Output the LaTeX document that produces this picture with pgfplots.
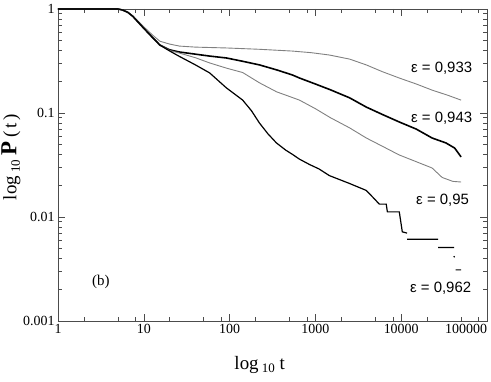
\documentclass[border=0pt]{standalone}
\usepackage{fontspec}
\setmainfont{Liberation Serif}
\newfontfamily\labfont{Liberation Sans}
\usepackage{pgfplots}
\pgfplotsset{compat=1.18}
\begin{document}
\begin{tikzpicture}
\begin{axis}[
    xmode=log, ymode=log,
    scale only axis,
    width=429bp, height=312bp,
    xmin=1, xmax=100000, ymin=0.001, ymax=1,
    xtick={1,10,100,1000,10000,100000},
    xticklabels={1,10,100,1000,10000,\llap{100000}},
    ytick={0.001,0.01,0.1,1},
    yticklabels={0.001,0.01,0.1,1},
    minor xtick={2,5,8,20,50,80,200,500,800,2000,5000,8000,20000,50000,80000},
    minor ytick={0.002,0.003,0.004,0.005,0.006,0.007,0.008,0.009,
                 0.02,0.03,0.04,0.05,0.06,0.07,0.08,0.09,
                 0.2,0.3,0.4,0.5,0.6,0.7,0.8,0.9},
    tick align=inside,
    major tick length=7bp, minor tick length=4bp,
    axis line style={black!70, line width=0.8pt},
    every tick/.style={black!70, line width=0.6pt},
    tick label style={font=\fontsize{14}{16}\selectfont},
    xlabel={\fontsize{19}{21}\selectfont log\,\raisebox{-0.4ex}{\fontsize{13}{15}\selectfont 10}\ t},
    ylabel={\fontsize{19}{21}\selectfont log\,\raisebox{-0.4ex}{\fontsize{13}{15}\selectfont 10}\ \textbf{\fontsize{23}{25}\selectfont P}\,(\,t\,)},
    xlabel style={at={(axis description cs:0.47,-0.141)}, anchor=center},
    ylabel style={at={(axis description cs:-0.1096,0.526)}, anchor=center},
    unbounded coords=jump,
]
% epsilon = 0.933
\addplot[black!50, line width=0.9pt] coordinates {
(1,1) (5,1) (5.6,0.98) (6.5,0.93) (7.45,0.86) (9.7,0.69) (12.7,0.56) (15.4,0.49) (20,0.46)
(26,0.44) (40,0.43) (92,0.422) (220,0.41) (540,0.394) (900,0.38) (1455,0.361)
(2500,0.33) (3920,0.29) (6000,0.25) (9480,0.217) (15000,0.19) (22900,0.166)
(35000,0.148) (49900,0.133)
};
% epsilon = 0.943
\addplot[black, line width=1.6pt] coordinates {
(1,1) (5,1) (5.6,0.98) (6.5,0.93) (7.45,0.85) (9.7,0.67) (12.7,0.53) (15.4,0.45) (20,0.405)
(26,0.386) (58,0.353) (92,0.338) (140,0.315) (223,0.29) (352,0.26) (540,0.232)
(652,0.217) (1000,0.19) (1500,0.167) (2500,0.14) (3920,0.114) (6000,0.097)
(9480,0.082) (15000,0.07) (22900,0.0575) (33300,0.0515) (42000,0.046) (49900,0.0378)
};
% epsilon = 0.95
\addplot[black!50, line width=0.9pt] coordinates {
(1,1) (5,1) (5.6,0.98) (6.5,0.93) (7.45,0.85) (9.7,0.67) (12.7,0.53) (15.4,0.45) (20,0.40)
(26,0.377) (40,0.34) (58.5,0.303) (92,0.27) (142,0.245) (223,0.195) (352,0.16)
(652,0.133) (1000,0.11) (1500,0.09) (2500,0.072) (3920,0.0575) (6000,0.048)
(9480,0.0395) (15000,0.034) (22900,0.0296) (30000,0.024) (40000,0.022) (49900,0.0217)
};
% epsilon = 0.962
\addplot[black, line width=1.2pt] coordinates {
(1,1) (5,1) (5.6,0.98) (6.5,0.93) (7.45,0.85) (9.7,0.67) (12.7,0.53) (15.4,0.45) (20,0.395)
(26,0.35) (40,0.29) (58.5,0.243) (92,0.174) (142,0.133) (180,0.105) (223,0.080)
(280,0.063) (352,0.0515) (450,0.044) (540,0.040) (652,0.036) (852,0.032) (1100,0.029)
(1455,0.025) (2500,0.021) (3920,0.018) (4850,0.015) (5550,0.0133) (6690,0.0133)
(6900,0.0112) (9500,0.0112) (10300,0.0072) (11700,0.0070) (11700,nan)
(11700,0.0061) (26900,0.0061) (26900,nan)
(26900,0.0051) (41300,0.0051) (41300,nan)
(41000,0.0042) (41900,0.0041) (41900,nan)
(43000,0.0031) (49900,0.0031)
};
\node[font=\labfont\fontsize{15}{17}\selectfont] at (axis cs:29600,0.268) {ε = 0,933};
\node[font=\labfont\fontsize{15}{17}\selectfont] at (axis cs:29600,0.0885) {ε = 0,943};
\node[font=\labfont\fontsize{15}{17}\selectfont] at (axis cs:30400,0.0145) {ε = 0,95};
\node[font=\labfont\fontsize{15}{17}\selectfont] at (axis cs:28800,0.00205) {ε = 0,962};
\node[font=\fontsize{15}{17}\selectfont] at (axis cs:3.16,0.0024) {(b)};
\end{axis}
\pgfresetboundingbox
\path[use as bounding box] (current axis.south west) ++(-58bp,-61bp) rectangle ([shift={(4bp,9bp)}]current axis.north east);
\end{tikzpicture}
\end{document}
